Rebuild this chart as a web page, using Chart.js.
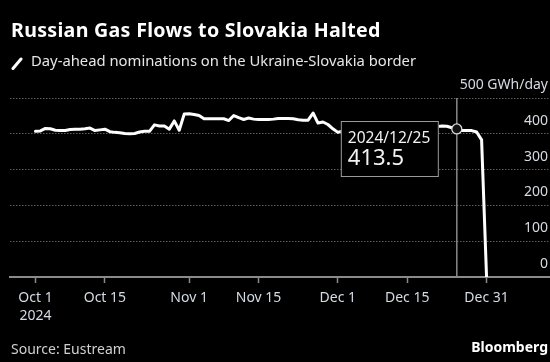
<!DOCTYPE html>
<html>
<head>
<meta charset="utf-8">
<script src="https://cdn.jsdelivr.net/npm/chart.js@4"></script>
<style>
  html, body { margin: 0; padding: 0; background: #000; }
  #wrap { position: relative; width: 550px; height: 362px; background: #000; overflow: hidden; }
  #c { position: absolute; left: 0; top: 0; }
  .t { position: absolute; white-space: nowrap; font-family: "Noto Sans", sans-serif; }
  #title { left: 11px; top: 16px; font-size: 19.6px; font-weight: 700; color: #fff; letter-spacing: 0.3px; }
  #sub { left: 31px; top: 50px; font-size: 14.8px; color: #e6e6e6; }
  #icon { position: absolute; left: 11px; top: 57px; width: 12px; height: 13px; }
  #src { left: 11px; top: 339px; font-size: 14px; color: #d0d0d0; }
  #brand { right: 2px; top: 337px; font-size: 14px; font-weight: 700; color: #fff; }
</style>
</head>
<body>
<div id="wrap">
  <canvas id="c" width="550" height="362"></canvas>
  <div class="t" id="title">Russian Gas Flows to Slovakia Halted</div>
  <svg id="icon" viewBox="0 0 12 13"><line x1="2" y1="11.5" x2="10" y2="2" stroke="#fff" stroke-width="3" stroke-linecap="round"/></svg>
  <div class="t" id="sub">Day-ahead nominations on the Ukraine-Slovakia border</div>
  <div class="t" id="src">Source: Eustream</div>
  <div class="t" id="brand">Bloomberg</div>
</div>
<script>
// Dates (one per day, Oct 1 2024 .. Dec 31 2024)
const dates = [
 "2024/10/01","2024/10/02","2024/10/03","2024/10/04","2024/10/05","2024/10/06","2024/10/07","2024/10/08","2024/10/09","2024/10/10",
 "2024/10/11","2024/10/12","2024/10/13","2024/10/14","2024/10/15","2024/10/16","2024/10/17","2024/10/18","2024/10/19","2024/10/20",
 "2024/10/21","2024/10/22","2024/10/23","2024/10/24","2024/10/25","2024/10/26","2024/10/27","2024/10/28","2024/10/29","2024/10/30",
 "2024/10/31","2024/11/01","2024/11/02","2024/11/03","2024/11/04","2024/11/05","2024/11/06","2024/11/07","2024/11/08","2024/11/09",
 "2024/11/10","2024/11/11","2024/11/12","2024/11/13","2024/11/14","2024/11/15","2024/11/16","2024/11/17","2024/11/18","2024/11/19",
 "2024/11/20","2024/11/21","2024/11/22","2024/11/23","2024/11/24","2024/11/25","2024/11/26","2024/11/27","2024/11/28","2024/11/29",
 "2024/11/30","2024/12/01","2024/12/02","2024/12/03","2024/12/04","2024/12/05","2024/12/06","2024/12/07","2024/12/08","2024/12/09",
 "2024/12/10","2024/12/11","2024/12/12","2024/12/13","2024/12/14","2024/12/15","2024/12/16","2024/12/17","2024/12/18","2024/12/19",
 "2024/12/20","2024/12/21","2024/12/22","2024/12/23","2024/12/24","2024/12/25","2024/12/26","2024/12/27","2024/12/28","2024/12/29",
 "2024/12/30","2024/12/31"
];
// Day-ahead nominations, GWh/day
const nominations = [
 407,408,415,414,410,409,409,412,413,413,
 414,416,409,411,413,406,404,403,401,400,
 401,405,407,407,425,422,422,413,436,410,
 455,456,454,451,442,442,442,442,442,437,
 451,445,440,444,441,440,440,440,441,443,
 443,443,442,439,438,438,458,430,433,426,
 414,404,408,415,418,420,418,422,420,421,
 419,423,420,418,421,424,420,419,422,425,
 421,420,422,421,417,413.5,409,409,409,405,
 383,0
];
// X tick positions (day index) and labels
const xTickDays = [0, 14, 31, 45, 61, 75, 91];
const xTickLabels = [["Oct 1","2024"], "Oct 15", "Nov 1", "Nov 15", "Dec 1", "Dec 15", "Dec 31"];
const yTicks = [0, 100, 200, 300, 400, 500];
const yUnit = "GWh/day";
const highlightIndex = 85;

const points = nominations.map((v, i) => ({ x: i, y: v }));

const hoverPlugin = {
  id: 'hoverMark',
  afterDatasetsDraw(chart) {
    const ctx = chart.ctx;
    const xs = chart.scales.x, ys = chart.scales.y;
    const px = xs.getPixelForValue(highlightIndex);
    const py = ys.getPixelForValue(nominations[highlightIndex]);
    const area = chart.chartArea;
    ctx.save();
    // crosshair
    ctx.strokeStyle = '#8a8a8a';
    ctx.lineWidth = 1.5;
    ctx.beginPath();
    ctx.moveTo(px, area.top);
    ctx.lineTo(px, area.bottom);
    ctx.stroke();
    // circle
    ctx.beginPath();
    ctx.arc(px, py, 5, 0, Math.PI * 2);
    ctx.fillStyle = '#111';
    ctx.fill();
    ctx.strokeStyle = '#d8d8d8';
    ctx.lineWidth = 1.3;
    ctx.stroke();
    // tooltip box
    const bx = px - 116, by = 121, bw = 98, bh = 56;
    ctx.fillStyle = '#000';
    ctx.fillRect(bx, by, bw, bh);
    ctx.strokeStyle = '#9a9a9a';
    ctx.lineWidth = 1;
    ctx.strokeRect(bx + 0.5, by + 0.5, bw - 1, bh - 1);
    ctx.fillStyle = '#f2f2f2';
    ctx.textAlign = 'left';
    ctx.textBaseline = 'alphabetic';
    ctx.font = '15.5px "Noto Sans", sans-serif';
    ctx.fillText(dates[highlightIndex], bx + 7, by + 22);
    ctx.font = '22px "Noto Sans", sans-serif';
    ctx.fillText(String(nominations[highlightIndex]), bx + 7, by + 44);
    ctx.restore();
  }
};

new Chart(document.getElementById('c'), {
  type: 'line',
  data: {
    datasets: [{
      data: points,
      borderColor: '#ffffff',
      borderWidth: 3,
      pointRadius: 0,
      tension: 0,
      borderJoinStyle: 'round',
      borderCapStyle: 'round',
      fill: false
    }]
  },
  options: {
    responsive: false,
    animation: false,
    events: [],
    layout: { padding: { left: 10, right: 0, top: 98, bottom: 0 } },
    plugins: { legend: { display: false }, tooltip: { enabled: false } },
    scales: {
      x: {
        type: 'linear',
        min: -5.14,
        max: 103.8,
        afterBuildTicks: (s) => { s.ticks = xTickDays.map(v => ({ value: v })); },
        afterFit: (s) => { s.height = 85; },
        ticks: {
          autoSkip: false,
          maxRotation: 0,
          padding: 6,
          color: '#d4dbe2',
          font: { family: '"Noto Sans", sans-serif', size: 14, lineHeight: 1.3 },
          callback: (v) => { const i = xTickDays.indexOf(v); return i >= 0 ? xTickLabels[i] : ''; }
        },
        grid: { drawOnChartArea: false, drawTicks: true, tickLength: 6, tickColor: '#8a8a8a', tickWidth: 1.5 },
        border: { display: true, color: '#8a8a8a', width: 2 }
      },
      y: {
        position: 'right',
        min: 0,
        max: 500,
        afterBuildTicks: (s) => { s.ticks = yTicks.map(v => ({ value: v })); },
        afterFit: (s) => { s.width = 0; },
        ticks: {
          mirror: true,
          padding: -2,
          labelOffset: -13,
          color: '#d4dbe2',
          font: { family: '"Noto Sans", sans-serif', size: 14 },
          callback: (v) => v === 500 ? v + ' ' + yUnit : String(v)
        },
        grid: {
          drawTicks: false,
          color: (c) => c.tick && c.tick.value === 0 ? 'rgba(0,0,0,0)' : '#5c5c5c',
          lineWidth: 1
        },
        border: { display: false, dash: [1.5, 1.5] }
      }
    }
  },
  plugins: [hoverPlugin]
});
</script>
</body>
</html>
